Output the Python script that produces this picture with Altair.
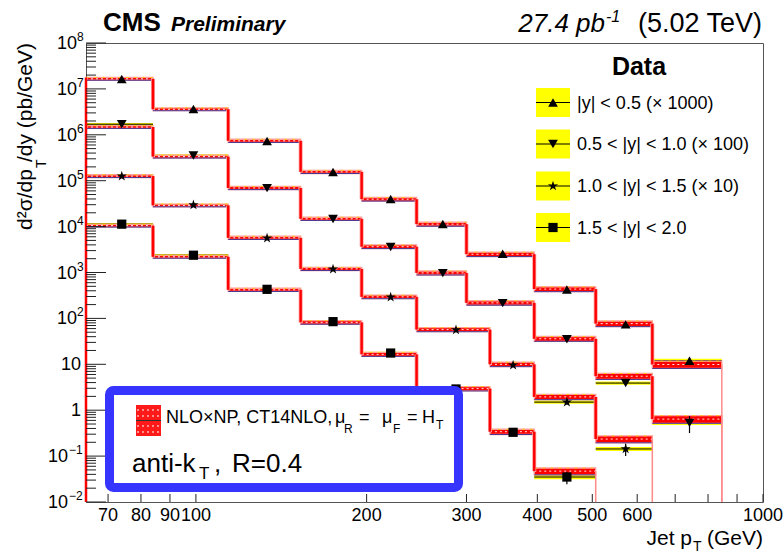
import altair as alt
import pandas as pd

FONT = "Liberation Sans"
L0, T0 = 86, 43          # plot-area origin in the page
W, H = 677, 459

# ---------------- data ----------------
edges_a = [64, 84, 114, 153, 196, 245, 300, 395, 507, 638, 846]   # |y|<0.5 and 0.5<|y|<1.0
edges_b = [64, 84, 114, 153, 196, 245, 330, 395, 507, 638]        # 1.0<|y|<1.5
edges_c = [64, 84, 114, 153, 196, 245, 330, 395, 507]             # 1.5<|y|<2.0

data1 = [1.64e7, 3.65e6, 7.3e5, 1.55e5, 4.0e4, 1.14e4, 2.55e3, 425, 74, 12.0]
theo1 = [1.66e7, 3.6e6, 7.4e5, 1.56e5, 3.95e4, 1.13e4, 2.5e3, 435, 77, 9.9]
unc1 = [0.07, 0.07, 0.08, 0.08, 0.09, 0.10, 0.11, 0.12, 0.14, 0.18]
sys1 = [0.06, 0.06, 0.06, 0.06, 0.06, 0.06, 0.07, 0.07, 0.08, 0.10]
stat1 = [0.005, 0.005, 0.005, 0.01, 0.01, 0.01, 0.02, 0.04, 0.08, 0.20]

data2 = [1.70e6, 3.55e5, 6.9e4, 1.46e4, 3.6e3, 970, 215, 35, 3.9, 0.53]
theo2 = [1.48e6, 3.35e5, 6.95e4, 1.48e4, 3.65e3, 980, 218, 36, 5.5, 0.64]
unc2 = [0.07, 0.07, 0.08, 0.08, 0.09, 0.10, 0.11, 0.12, 0.15, 0.19]
sys2 = [0.06, 0.06, 0.06, 0.06, 0.06, 0.06, 0.07, 0.07, 0.08, 0.10]
stat2 = [0.005, 0.005, 0.005, 0.01, 0.01, 0.01, 0.02, 0.04, 0.10, 0.40]

data3 = [1.26e5, 2.96e4, 5.6e3, 1.18e3, 290, 56, 9.6, 1.5, 0.143]
theo3 = [1.26e5, 2.9e4, 5.7e3, 1.2e3, 295, 57, 10.0, 1.95, 0.235]
unc3 = [0.07, 0.07, 0.08, 0.08, 0.09, 0.10, 0.11, 0.13, 0.17]
sys3 = [0.06, 0.06, 0.06, 0.06, 0.06, 0.07, 0.07, 0.08, 0.10]
stat3 = [0.005, 0.005, 0.01, 0.01, 0.02, 0.03, 0.06, 0.12, 0.30]

data4 = [1.13e4, 2.38e3, 430, 85, 17.6, 2.9, 0.33, 0.035]
theo4 = [1.05e4, 2.2e3, 420, 82, 16.5, 2.95, 0.34, 0.047]
unc4 = [0.07, 0.07, 0.08, 0.09, 0.10, 0.11, 0.13, 0.17]
sys4 = [0.06, 0.06, 0.06, 0.07, 0.07, 0.08, 0.09, 0.11]
stat4 = [0.005, 0.01, 0.01, 0.02, 0.04, 0.06, 0.12, 0.30]

STAR = ("M0,-1L0.22,-0.3L0.95,-0.31L0.36,0.12L0.59,0.81L0,0.38"
        "L-0.59,0.81L-0.36,0.12L-0.95,-0.31L-0.22,-0.3Z")

series = [
    ("s1", edges_a, data1, theo1, unc1, sys1, stat1, "triangle-up", 95),
    ("s2", edges_a, data2, theo2, unc2, sys2, stat2, "triangle-down", 95),
    ("s3", edges_b, data3, theo3, unc3, sys3, stat3, STAR, 115),
    ("s4", edges_c, data4, theo4, unc4, sys4, stat4, "square", 85),
]

legend_labels = ["|y| < 0.5 (\u00d7 1000)", "0.5 < |y| < 1.0 (\u00d7 100)",
                 "1.0 < |y| < 1.5 (\u00d7 10)", "1.5 < |y| < 2.0"]

YMIN, YMAX = 1e-2, 1e8
XMIN, XMAX = 64, 1000

# ---------------- tables ----------------
bins, verts, drops = [], [], []
for name, ed, d, t, u, s, st, shape, size in series:
    for i in range(len(d)):
        lo, hi = ed[i], ed[i + 1]
        bins.append(dict(series=name, lo=lo, hi=hi, data=d[i], theo=t[i],
                         th_lo=t[i] * (1 - u[i]), th_hi=t[i] * (1 + u[i]),
                         d_lo=d[i] * (1 - s[i]), d_hi=d[i] * (1 + s[i]),
                         e_lo=d[i] * (1 - st[i]), e_hi=d[i] * (1 + st[i]),
                         ctr=(lo + hi) / 2, shape=shape, size=size))
        if i < len(d) - 1:
            verts.append(dict(x=hi, y1=t[i], y2=t[i + 1]))
    drops.append(dict(x=ed[-1], y1=t[-1], y2=YMIN))
bins = pd.DataFrame(bins)
verts = pd.DataFrame(verts)
drops = pd.DataFrame(drops)
left = pd.DataFrame([dict(x=edges_a[0], y1=theo1[0] * (1 + unc1[0]), y2=YMIN)])

xs = alt.Scale(type="log", domain=[XMIN, XMAX], nice=False)
ys = alt.Scale(type="log", domain=[YMIN, YMAX], nice=False)


def X(f):
    return alt.X(f, type="quantitative", scale=xs, axis=None)


def Y(f):
    return alt.Y(f, type="quantitative", scale=ys, axis=None)


one = pd.DataFrame({"a": [0]})


def txt(s, x, y, size, align="left", baseline="alphabetic", angle=None, **kw):
    props = dict(text=s, fontSize=size, font=FONT, align=align, baseline=baseline,
                 color="black", **kw)
    if angle is not None:
        props["angle"] = angle
    return alt.Chart(one).mark_text(**props).encode(
        x=alt.value(x - L0), y=alt.value(y - T0))


layers = []
# data systematic band (yellow) + data line
layers.append(alt.Chart(bins).mark_rect(color="#ffff00").encode(
    x=X("lo"), x2="hi", y=Y("d_lo"), y2="d_hi"))
layers.append(alt.Chart(bins).mark_rule(color="black", strokeWidth=1).encode(
    x=X("lo"), x2="hi", y=Y("data")))
# theory band
layers.append(alt.Chart(bins).mark_rect(color="#ff0000", stroke="#ff9d9d", strokeWidth=1.3).encode(
    x=X("lo"), x2="hi", y=Y("th_lo"), y2="th_hi"))
layers.append(alt.Chart(bins).mark_rule(color="#1c1c8c", strokeWidth=1, opacity=0.8).encode(
    x=X("lo"), x2="hi", y=Y("th_lo")))
layers.append(alt.Chart(bins).mark_rule(color="white", strokeWidth=1, strokeDash=[2, 3], opacity=0.9).encode(
    x=X("lo"), x2="hi", y=Y("theo")))
layers.append(alt.Chart(bins).mark_rule(color="#ffcc00", strokeWidth=1, strokeDash=[3, 5], opacity=0.8).encode(
    x=X("lo"), x2="hi", y=Y("th_hi")))
# step connectors
layers.append(alt.Chart(verts).mark_rule(color="#ff9d9d", strokeWidth=4).encode(
    x=X("x"), y=Y("y1"), y2="y2"))
layers.append(alt.Chart(verts).mark_rule(color="#ff0000", strokeWidth=2.4).encode(
    x=X("x"), y=Y("y1"), y2="y2"))
layers.append(alt.Chart(drops).mark_rule(color="#ff8a8a", strokeWidth=1.5).encode(
    x=X("x"), y=Y("y1"), y2="y2"))
layers.append(alt.Chart(left).mark_rule(color="#ff0000", strokeWidth=2.5).encode(
    x=X("x"), y=Y("y1"), y2="y2"))
# data error bars and markers
layers.append(alt.Chart(bins).mark_rule(color="black", strokeWidth=1.2).encode(
    x=X("ctr"), y=Y("e_lo"), y2="e_hi"))
layers.append(alt.Chart(bins).mark_point(filled=True, color="black", opacity=1).encode(
    x=X("ctr"), y=Y("data"),
    shape=alt.Shape("shape:N", scale=None),
    size=alt.Size("size:Q", scale=None)))

# ---------------- axes (ROOT style, ticks inside) ----------------
xtick_vals = [70, 80, 90, 100, 200, 300, 400, 500, 600, 700, 800, 900, 1000]
xlab_vals = [70, 80, 90, 100, 200, 300, 400, 500, 600, 1000]
layers.append(alt.Chart(pd.DataFrame({"v": xtick_vals})).mark_rule(color="#222", strokeWidth=1).encode(
    x=X("v"), y=alt.value(H), y2=alt.value(H - 8)))
layers.append(alt.Chart(pd.DataFrame({"v": xlab_vals, "t": [str(v) for v in xlab_vals]}))
              .mark_text(fontSize=18, font=FONT, baseline="alphabetic", align="center", color="black")
              .encode(x=X("v"), y=alt.value(521 - T0), text="t:N"))

decades = list(range(-2, 9))
ymaj = pd.DataFrame({"v": [10.0 ** k for k in decades]})
ymin = pd.DataFrame({"v": [m * 10.0 ** k for k in range(-2, 8) for m in range(2, 10)]})
layers.append(alt.Chart(ymaj).mark_rule(color="#222", strokeWidth=1).encode(
    y=Y("v"), x=alt.value(0), x2=alt.value(20)))
layers.append(alt.Chart(ymin).mark_rule(color="#222", strokeWidth=1).encode(
    y=Y("v"), x=alt.value(0), x2=alt.value(10)))

ylab = []
for k in decades:
    if k == 0 or k == 1:
        ylab.append(dict(v=10.0 ** k, base="1" if k == 0 else "10", exp="", bx=81 - L0, ex=0))
    elif k < 0:
        ylab.append(dict(v=10.0 ** k, base="10", exp="\u2212" + str(-k), bx=68 - L0, ex=69 - L0))
    else:
        ylab.append(dict(v=10.0 ** k, base="10", exp=str(k), bx=77 - L0, ex=77 - L0))
ylab = pd.DataFrame(ylab)
layers.append(alt.Chart(ylab).mark_text(fontSize=18, font=FONT, align="right", baseline="middle",
                                        dy=1, color="black").encode(
    x=alt.X("bx:Q", scale=None, axis=None), y=Y("v"), text="base:N"))
layers.append(alt.Chart(ylab[ylab.exp != ""]).mark_text(fontSize=12, font=FONT, align="left",
                                                        baseline="alphabetic", dy=-2, color="black").encode(
    x=alt.X("ex:Q", scale=None, axis=None), y=Y("v"), text="exp:N"))

# axis titles
layers.append(txt("d\u00b2\u03c3/dp", 32, 230, 21, angle=270))
layers.append(txt("T", 46, 168, 14, angle=270))
layers.append(txt("/dy (pb/GeV)", 32, 162, 21, angle=270))
layers.append(txt("Jet p", 692, 545, 21, align="right"))
layers.append(txt("T", 693, 551, 14))
layers.append(txt("(GeV)", 763, 545, 21, align="right"))

# header
layers.append(txt("CMS", 103, 31, 26, fontWeight="bold"))
layers.append(txt("Preliminary", 171, 31, 21, fontWeight="bold", fontStyle="italic"))
layers.append(txt("27.4 pb", 605, 32, 26, align="right", fontStyle="italic"))
layers.append(txt("-1", 606, 22, 16, fontStyle="italic"))
layers.append(txt("(5.02 TeV)", 762, 32, 27, align="right"))

# ---------------- legend (Data) ----------------
leg_y = [102.5, 144, 186, 227.5]
leg = pd.DataFrame({
    "yc": [y - T0 for y in leg_y],
    "y1": [y - T0 - 14.5 for y in leg_y],
    "y2": [y - T0 + 14.5 for y in leg_y],
    "label": legend_labels,
    "shape": [s[7] for s in series],
    "size": [s[8] for s in series],
})
layers.append(txt("Data", 639, 75, 25, align="center", fontWeight="bold"))
layers.append(alt.Chart(leg).mark_rect(color="#ffff00").encode(
    x=alt.value(536 - L0), x2=alt.value(570 - L0),
    y=alt.Y("y1:Q", scale=None, axis=None), y2="y2:Q"))
layers.append(alt.Chart(leg).mark_rule(color="black", strokeWidth=1).encode(
    x=alt.value(536 - L0), x2=alt.value(570 - L0), y=alt.Y("yc:Q", scale=None, axis=None)))
layers.append(alt.Chart(leg).mark_point(filled=True, color="black", opacity=1).encode(
    x=alt.value(553 - L0), y=alt.Y("yc:Q", scale=None, axis=None),
    shape=alt.Shape("shape:N", scale=None), size=alt.Size("size:Q", scale=None)))
layers.append(alt.Chart(leg).mark_text(fontSize=18, font=FONT, align="left", baseline="middle",
                                       dy=1, color="black").encode(
    x=alt.value(577 - L0), y=alt.Y("yc:Q", scale=None, axis=None), text="label:N"))

# ---------------- theory box ----------------
layers.append(alt.Chart(one).mark_rect(fill="white", stroke="#3535ff", strokeWidth=9, cornerRadius=4).encode(
    x=alt.value(109.5 - L0), x2=alt.value(458.5 - L0), y=alt.value(390.5 - T0), y2=alt.value(487.5 - T0)))
layers.append(alt.Chart(one).mark_rect(fill="#ff1a1a").encode(
    x=alt.value(136 - L0), x2=alt.value(161 - L0), y=alt.value(405 - T0), y2=alt.value(436 - T0)))
for yy in (410, 416, 426, 432):
    layers.append(alt.Chart(one).mark_rule(color="white", strokeWidth=1.2, strokeDash=[2, 3]).encode(
        x=alt.value(137 - L0), x2=alt.value(161 - L0), y=alt.value(yy - T0)))
layers.append(alt.Chart(one).mark_rule(color="#333", strokeWidth=1).encode(
    x=alt.value(136 - L0), x2=alt.value(161 - L0), y=alt.value(420.5 - T0)))
layers.append(txt("NLO\u00d7NP, CT14NLO,", 166, 423, 18))
layers.append(txt("\u03bc", 335, 423, 18))
layers.append(txt("R", 344, 433, 12))
layers.append(txt("=", 359, 423, 18))
layers.append(txt("\u03bc", 382, 423, 18))
layers.append(txt("F", 393, 433, 12))
layers.append(txt("=", 407, 423, 18))
layers.append(txt("H", 422, 423, 18))
layers.append(txt("T", 436, 429, 12))
layers.append(txt("anti-k", 132, 472, 26))
layers.append(txt("T", 199, 479, 17))
layers.append(txt(",", 214, 472, 26))
layers.append(txt("R=0.4", 232, 472, 26))

chart = alt.layer(*layers).properties(
    width=W, height=H,
    padding={"left": L0, "top": T0, "right": 784 - L0 - W, "bottom": 554 - T0 - H},
    autosize=alt.AutoSizeParams(type="none"),
    background="white",
).configure_view(stroke="#555", strokeWidth=1)

chart.save("out.html", embed_options={"renderer": "svg", "actions": False})
